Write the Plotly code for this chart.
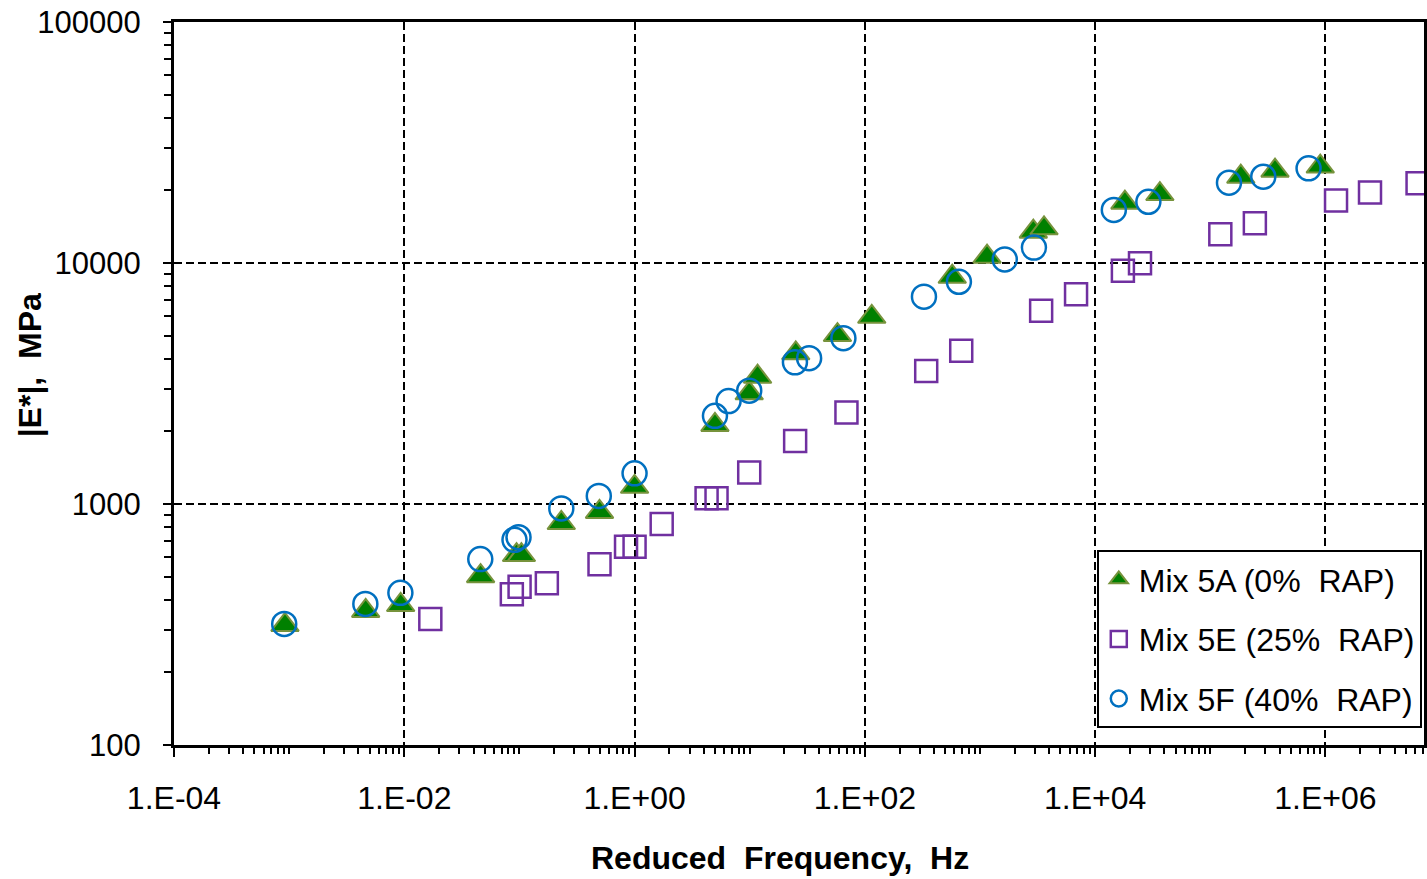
import numpy as np
import plotly.graph_objects as go

# ---- data (reduced frequency in Hz, |E*| in MPa) ----
freq_5A = [0.00092, 0.00462, 0.0093, 0.046, 0.0944, 0.104, 0.231, 0.496, 1.0,
           4.99, 9.9, 11.7, 25.1, 57.8, 114.8, 574, 1151, 2904, 3597,
           18130, 36480, 184000, 364800, 901600]
E_5A = [315, 360, 381, 502, 614, 614, 834, 927, 1178,
        2128, 2878, 3373, 4219, 5024, 5982, 8770, 10620, 13490, 13930,
        17800, 19320, 22800, 24160, 25130]

freq_5E = [0.01683, 0.0859, 0.1003, 0.173, 0.496, 0.843, 1.0, 1.72,
           4.22, 5.15, 9.9, 24.8, 69.2, 341, 687, 3396, 6826,
           17420, 24520, 122200, 243800, 1236000, 2438000, 6310000]
E_5E = [333, 422, 454, 469, 562, 665, 665, 826,
        1057, 1057, 1352, 1825, 2398, 3565, 4326, 6339, 7417,
        9293, 9970, 13150, 14620, 18150, 19590, 21430]

freq_5F = [0.000906, 0.00459, 0.00925, 0.0457, 0.0906, 0.0982, 0.231, 0.489, 1.0,
           4.99, 6.55, 9.9, 24.7, 32.8, 65.1, 326, 656, 1641, 2940,
           14530, 28980, 145300, 288400, 713500]
E_5F = [318, 385, 428, 591, 710, 728, 959, 1080, 1340,
        2323, 2673, 2953, 3873, 4027, 4875, 7250, 8358, 10350, 11590,
        16600, 17950, 21530, 22800, 24720]

names = ["Mix 5A (0%\u00a0 RAP)", "Mix 5E (25%\u00a0 RAP)", "Mix 5F (40%\u00a0 RAP)"]

x_tickvals = [1e-4, 1e-2, 1e0, 1e2, 1e4, 1e6]
x_ticktext = ["1.E-04", "1.E-02", "1.E+00", "1.E+02", "1.E+04", "1.E+06"]
y_tickvals = [100, 1000, 10000, 100000]
y_ticktext = ["100", "1000", "10000", "100000"]

FONT = "Liberation Sans, Arial, sans-serif"

# minor ticks (axis decoration)
x_minor = [m * 10.0 ** k for k in range(-4, 7) for m in range(1, 10)
           if not (m == 1 and k % 2 == 0)]
y_minor = [m * 10.0 ** k for k in range(2, 5) for m in range(2, 10)]

fig = go.Figure()
fig.add_trace(go.Scatter(
    x=freq_5A, y=E_5A, mode="markers", name=names[0], legendgroup="a",
    marker=dict(symbol="triangle-up", size=24, color="#008000",
                line=dict(color="#77933C", width=2))))
fig.add_trace(go.Scatter(
    x=freq_5E, y=E_5E, mode="markers", name=names[1], legendgroup="b",
    marker=dict(symbol="square-open", size=22, color="#7030A0",
                line=dict(color="#7030A0", width=2.5))))
fig.add_trace(go.Scatter(
    x=freq_5F, y=E_5F, mode="markers", name=names[2], legendgroup="c",
    marker=dict(symbol="circle-open", size=24, color="#0070C0",
                line=dict(color="#0070C0", width=2.5))))

fig.update_layout(
    width=1427, height=879,
    margin=dict(l=174, r=0, t=22, b=134),
    paper_bgcolor="white", plot_bgcolor="white",
    font=dict(family=FONT, color="black", size=30),
    showlegend=True,
    legend=dict(x=(1099 - 174) / 1253, y=(745 - 550) / 723, xanchor="left", yanchor="top",
                bgcolor="white", bordercolor="black", borderwidth=2,
                font=dict(family=FONT, size=32, color="black"),
                tracegroupgap=15, itemsizing="trace"),
    xaxis=dict(
        type="log", range=[-4, 6.856],
        tickmode="array", tickvals=x_tickvals, ticktext=x_ticktext,
        tickfont=dict(family=FONT, size=32, color="black"),
        ticks="outside", ticklen=9, tickwidth=2, tickcolor="black",
        ticklabelstandoff=14,
        showgrid=True, gridcolor="black", gridwidth=2, griddash="8px,4px",
        showline=True, linecolor="black", linewidth=3, mirror=True,
        zeroline=False,
        minor=dict(tickmode="array", tickvals=x_minor, ticks="outside",
                   ticklen=6, tickwidth=1.5, tickcolor="black", showgrid=False),
    ),
    yaxis=dict(
        type="log", range=[2, 5],
        tickmode="array", tickvals=y_tickvals, ticktext=y_ticktext,
        tickfont=dict(family=FONT, size=31, color="black"),
        ticks="outside", ticklen=8, tickwidth=2, tickcolor="black",
        ticklabelstandoff=16,
        showgrid=True, gridcolor="black", gridwidth=2, griddash="8px,4px",
        showline=True, linecolor="black", linewidth=3, mirror=True,
        zeroline=False,
        minor=dict(tickmode="array", tickvals=y_minor, ticks="outside",
                   ticklen=7, tickwidth=1.5, tickcolor="black", showgrid=False),
    ),
    annotations=[
        dict(text="<b>Reduced\u00a0 Frequency,\u00a0 Hz</b>", xref="paper", yref="paper",
             x=(781 - 174) / 1253, y=(745 - 858) / 723, xanchor="center", yanchor="middle",
             showarrow=False, font=dict(family=FONT, size=32, color="black")),
        dict(text="<b>|E*|,\u00a0 MPa</b>", xref="paper", yref="paper",
             x=(30 - 174) / 1253, y=(745 - 365) / 723, xanchor="center", yanchor="middle",
             textangle=-90, showarrow=False,
             font=dict(family=FONT, size=32, color="black")),
    ],
)

fig.write_html("out.html")
